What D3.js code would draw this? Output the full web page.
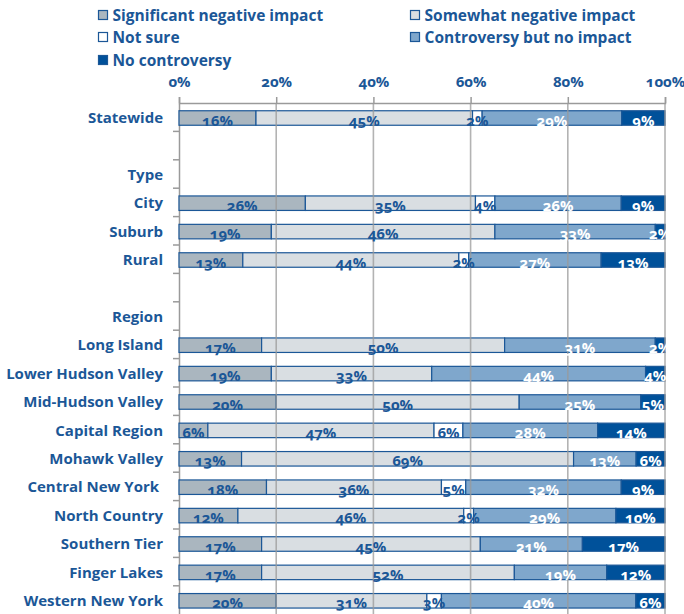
<!DOCTYPE html>
<html>
<head>
<meta charset="utf-8">
<script src="https://cdn.jsdelivr.net/npm/d3@7"></script>
<style>
  html, body { margin: 0; padding: 0; background: #fff; }
  svg { display: block; font-family: "Open Sans", "Noto Sans", sans-serif; font-weight: 700; }
  .oldnum { font-variant-numeric: oldstyle-nums; font-feature-settings: "onum" 1; }
</style>
</head>
<body>
<svg id="chart" width="684" height="614"></svg>
<script>
// ---- data ----
const categories = ["Statewide", "", "Type", "City", "Suburb", "Rural", " ", "Region",
  "Long Island", "Lower Hudson Valley", "Mid-Hudson Valley", "Capital Region", "Mohawk Valley",
  "Central New York ", "North Country", "Southern Tier", "Finger Lakes", "Western New York"];
const seriesNames = ["Significant negative impact", "Somewhat negative impact", "Not sure",
  "Controversy but no impact", "No controversy"];
const significantNegative = [16, null, null, 26, 19, 13, null, null, 17, 19, 20, 6, 13, 18, 12, 17, 17, 20];
const somewhatNegative    = [45, null, null, 35, 46, 44, null, null, 50, 33, 50, 47, 69, 36, 46, 45, 52, 31];
const notSure             = [2,  null, null, 4,  0,  2,  null, null, 0,  0,  0,  6,  0,  5,  2,  0,  0,  3];
const controversyNoImpact = [29, null, null, 26, 33, 27, null, null, 31, 44, 25, 28, 13, 32, 29, 21, 19, 40];
const noControversy       = [9,  null, null, 9,  2,  13, null, null, 2,  4,  5,  14, 6,  9,  10, 17, 12, 6];
const xTicks = [0, 0.2, 0.4, 0.6, 0.8, 1];

// ---- styles ----
const fills = ["#aab6bf", "#d9dee2", "#ffffff", "#7fa7cc", "#00519a"];
const textColors = ["#1b5797", "#1b5797", "#1b5797", "#ffffff", "#ffffff"];
const blue = "#1b5797";
const gridColor = "#9a9a9a";

const svg = d3.select("#chart");
const margin = { left: 179, right: 665, top: 103 };

const rows = categories.map((c, i) => ({
  key: i, label: c,
  hasData: significantNegative[i] !== null,
  v: [significantNegative[i], somewhatNegative[i], notSure[i], controversyNoImpact[i], noControversy[i]]
}));
const dataRows = rows.filter(r => r.hasData);

const x = d3.scaleLinear().domain([0, 1]).range([margin.left, margin.right]);
const y = d3.scaleBand().domain(rows.map(r => r.key)).range([margin.top, margin.top + 18 * 28.4]).padding(0);

const stack = d3.stack()
  .keys([0, 1, 2, 3, 4])
  .value((d, k) => d.v[k])
  .offset(d3.stackOffsetExpand);
const stacked = stack(dataRows);

// legend
const legendPos = [[98, 10], [410, 10], [98, 32], [410, 32], [98, 55]];
const lg = svg.append("g");
seriesNames.forEach((name, i) => {
  const g = lg.append("g").attr("transform", `translate(${legendPos[i][0]},${legendPos[i][1]})`);
  g.append("rect").attr("x", 0.5).attr("y", 0.5).attr("width", 9).attr("height", 9)
    .attr("fill", fills[i]).attr("stroke", blue).attr("stroke-width", 1.2);
  g.append("text").attr("x", 14.5).attr("y", 10.5).attr("fill", blue)
    .attr("font-size", 15.5).text(name);
});

// top axis
const xAxis = d3.axisTop(x).tickValues(xTicks).tickFormat(d3.format(".0%")).tickSizeOuter(0).tickSize(6);
const ax = svg.append("g").attr("transform", `translate(0,${margin.top})`).call(xAxis);
ax.select(".domain").attr("stroke", gridColor).attr("stroke-width", 1.5);
ax.selectAll(".tick line").attr("stroke", gridColor).attr("stroke-width", 1.5);
ax.selectAll(".tick text").attr("fill", blue).attr("font-size", 15).attr("font-family", "'Open Sans', sans-serif")
  .attr("font-weight", 700).attr("class", "oldnum").attr("dy", "-7");

// left axis
const yAxis = d3.axisLeft(y).tickSize(5).tickFormat("").tickSizeOuter(0);
const ay = svg.append("g").attr("transform", `translate(${margin.left},0)`).call(yAxis);
ay.select(".domain").attr("stroke", gridColor).attr("stroke-width", 1.5);
// ticks at band boundaries
ay.selectAll(".tick").remove();
ay.selectAll(".btick").data(rows.slice(1)).join("line")
  .attr("class", "btick")
  .attr("x1", -6).attr("x2", 0)
  .attr("y1", d => y(d.key)).attr("y2", d => y(d.key))
  .attr("stroke", gridColor).attr("stroke-width", 1.5);

// row labels
svg.append("g").selectAll("text").data(rows).join("text")
  .attr("x", 163)
  .attr("y", d => y(d.key) + y.bandwidth() / 2 + 6)
  .attr("text-anchor", "end")
  .attr("fill", blue)
  .attr("font-size", 15)
  .style("white-space", "pre")
  .text(d => d.label);

// bars
const barH = 14.5;
const barG = svg.append("g");
stacked.forEach((layer, k) => {
  barG.append("g").selectAll("rect").data(layer.filter(s => s.data.v[k] > 0)).join("rect")
    .attr("x", s => x(s[0]))
    .attr("width", s => x(s[1]) - x(s[0]))
    .attr("y", s => y(s.data.key) + y.bandwidth() / 2 - barH / 2 + 0.8)
    .attr("height", barH)
    .attr("fill", fills[k])
    .attr("stroke", blue)
    .attr("stroke-width", 1.2);
});

// gridlines (on top of bars, semi transparent)
svg.append("g").selectAll("line").data(xTicks.slice(1)).join("line")
  .attr("x1", d => x(d)).attr("x2", d => x(d))
  .attr("y1", margin.top).attr("y2", 614)
  .attr("stroke", gridColor).attr("stroke-width", 1.6).attr("stroke-opacity", 0.75);

// labels clipped at the plot edge
svg.append("clipPath").attr("id", "plotclip").append("rect")
  .attr("x", margin.left - 5).attr("y", margin.top).attr("width", margin.right + 2 - margin.left + 5).attr("height", 520);
const labG = svg.append("g").attr("clip-path", "url(#plotclip)");
stacked.forEach((layer, k) => {
  labG.append("g").selectAll("text").data(layer.filter(s => s.data.v[k] > 0)).join("text")
    .attr("class", "oldnum")
    .attr("x", s => (x(s[0]) + x(s[1])) / 2)
    .attr("y", s => y(s.data.key) + y.bandwidth() / 2 + barH / 2 + 1.2)
    .attr("text-anchor", "middle")
    .attr("fill", textColors[k])
    .attr("font-size", 15)
    .text(s => s.data.v[k] + "%");
});
</script>
</body>
</html>
